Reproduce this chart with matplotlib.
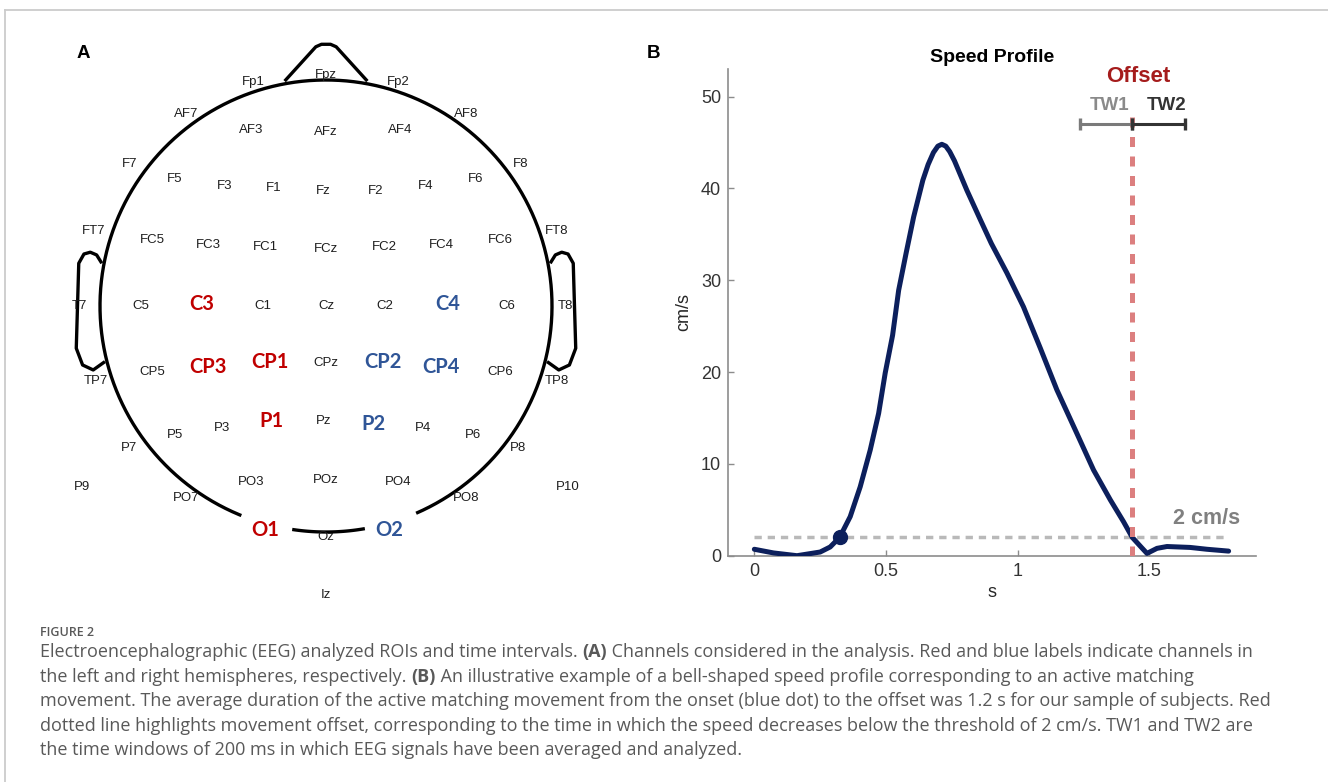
import numpy as np
import matplotlib
matplotlib.use("Agg")
import matplotlib.pyplot as plt
from matplotlib.lines import Line2D
from matplotlib.transforms import IdentityTransform

W, H = 1328, 782
plt.rcParams['font.family'] = ['Liberation Sans', 'DejaVu Sans']

# ---- panel A: channel layout (head radius = 1) ----
ch_names = ['Fpz', 'Fp1', 'Fp2', 'AF7', 'AF8', 'AF3', 'AFz', 'AF4',
            'F7', 'F8', 'F5', 'F6', 'F3', 'F4', 'F1', 'F2', 'Fz',
            'FT7', 'FT8', 'FC5', 'FC6', 'FC3', 'FC4', 'FC1', 'FC2', 'FCz',
            'T7', 'C5', 'C3', 'C1', 'Cz', 'C2', 'C4', 'C6', 'T8',
            'TP7', 'TP8', 'CP5', 'CP3', 'CP1', 'CPz', 'CP2', 'CP4', 'CP6',
            'P7', 'P8', 'P5', 'P6', 'P3', 'P4', 'P1', 'Pz', 'P2',
            'P9', 'P10', 'PO7', 'PO8', 'PO3', 'PO4', 'POz',
            'O1', 'O2', 'Oz', 'Iz']
ch_x = [0.00, -0.32, 0.32, -0.62, 0.62, -0.33, 0.00, 0.33,
        -0.87, 0.86, -0.67, 0.66, -0.45, 0.44, -0.23, 0.22, -0.01,
        -1.03, 1.02, -0.77, 0.77, -0.52, 0.51, -0.27, 0.26, 0.00,
        -1.09, -0.82, -0.55, -0.28, 0.00, 0.26, 0.54, 0.80, 1.06,
        -1.02, 1.02, -0.77, -0.52, -0.25, 0.00, 0.25, 0.51, 0.77,
        -0.87, 0.85, -0.67, 0.65, -0.46, 0.43, -0.24, -0.01, 0.21,
        -1.08, 1.07, -0.62, 0.62, -0.33, 0.32, 0.00,
        -0.27, 0.28, 0.00, 0.00]
ch_y = [1.02, 0.99, 0.99, 0.85, 0.85, 0.78, 0.77, 0.78,
        0.63, 0.63, 0.56, 0.56, 0.53, 0.53, 0.52, 0.51, 0.51,
        0.33, 0.33, 0.29, 0.29, 0.27, 0.27, 0.26, 0.26, 0.25,
        0.00, 0.00, 0.01, 0.00, 0.00, 0.00, 0.01, 0.00, 0.00,
        -0.33, -0.33, -0.29, -0.27, -0.25, -0.25, -0.25, -0.27, -0.29,
        -0.63, -0.63, -0.57, -0.57, -0.54, -0.54, -0.51, -0.51, -0.52,
        -0.80, -0.80, -0.85, -0.85, -0.78, -0.78, -0.77,
        -0.99, -0.99, -1.02, -1.28]
roi_left = ['C3', 'CP3', 'CP1', 'P1', 'O1']
roi_right = ['C4', 'CP2', 'CP4', 'P2', 'O2']

# ---- panel B: speed profile ----
t_s = [0.0, 0.073, 0.162, 0.250, 0.288, 0.324, 0.364, 0.402, 0.440, 0.472,
       0.497, 0.525, 0.548, 0.576, 0.605, 0.640, 0.660, 0.680, 0.697, 0.712,
       0.727, 0.742, 0.760, 0.807, 0.858, 0.900, 0.959, 1.022, 1.086, 1.149,
       1.225, 1.288, 1.352, 1.402, 1.435, 1.470, 1.491, 1.529, 1.567, 1.655,
       1.719, 1.801]
speed = [0.7, 0.3, 0.0, 0.4, 0.95, 2.0, 4.25, 7.5, 11.5, 15.5,
         19.9, 24.0, 28.9, 32.9, 36.9, 40.9, 42.6, 43.9, 44.6, 44.8,
         44.6, 44.0, 43.0, 39.8, 36.6, 34.0, 30.8, 27.1, 22.6, 18.05,
         13.3, 9.34, 6.07, 3.7, 2.0, 0.9, 0.25, 0.8, 1.0, 0.9,
         0.7, 0.5]
onset = (0.324, 2.0)
offset_t = 1.435
threshold = 2.0
tw1 = [1.235, 1.435]
tw2 = [1.435, 1.635]

caption_head = 'FIGURE 2'
caption_lines = [
    [('Electroencephalographic (EEG) analyzed ROIs and time intervals. ', 'normal'), ('(A)', 'bold'),
     (' Channels considered in the analysis. Red and blue labels indicate channels in', 'normal')],
    [('the left and right hemispheres, respectively. ', 'normal'), ('(B)', 'bold'),
     (' An illustrative example of a bell-shaped speed profile corresponding to an active matching', 'normal')],
    [('movement. The average duration of the active matching movement from the onset (blue dot) to the offset was 1.2 s for our sample of subjects. Red', 'normal')],
    [('dotted line highlights movement offset, corresponding to the time in which the speed decreases below the threshold of 2 cm/s. TW1 and TW2 are', 'normal')],
    [('the time windows of 200 ms in which EEG signals have been averaged and analyzed.', 'normal')],
]


def px_box(x0, y0, x1, y1):
    return [x0 / W, 1 - y1 / H, (x1 - x0) / W, (y1 - y0) / H]


fig = plt.figure(figsize=(W / 100, H / 100), dpi=100)

# light frame
fig.add_artist(Line2D([5 / W, 1], [1 - 10 / H, 1 - 10 / H], transform=fig.transFigure, color='#cccccc', lw=1.3))
fig.add_artist(Line2D([5 / W, 5 / W], [0, 1 - 10 / H], transform=fig.transFigure, color='#cccccc', lw=1.3))

# ---------- A ----------
axa = fig.add_axes(px_box(40, 30, 612, 620))
axa.set_xlim(-286 / 226, 286 / 226)
axa.set_ylim((306 - 620) / 226, (306 - 30) / 226)
axa.axis('off')

head_kw = dict(color='black', lw=2.4, solid_joinstyle='round', solid_capstyle='butt')
th = np.radians(np.linspace(-66.5, 248, 500))
axa.plot(np.cos(th), np.sin(th), **head_kw)
th = np.radians(np.linspace(-98.6, -80.1, 60))
axa.plot(np.cos(th), np.sin(th), **head_kw)
nose_x = [-0.183, -0.045, -0.02, 0.02, 0.045, 0.183]
nose_y = [0.995, 1.147, 1.158, 1.158, 1.147, 0.995]
axa.plot(nose_x, nose_y, **head_kw)
ear_x = np.array([-0.992, -1.015, -1.043, -1.071, -1.094, -1.105, -1.077, -1.030, -0.978])
ear_y = np.array([0.189, 0.226, 0.238, 0.230, 0.189, -0.187, -0.261, -0.283, -0.246])
axa.plot(ear_x, ear_y, **head_kw)
axa.plot(-ear_x, ear_y, **head_kw)

for name, x, y in zip(ch_names, ch_x, ch_y):
    if name in roi_left or name in roi_right:
        col = '#c00000' if name in roi_left else '#2f5597'
        axa.text(x, y, name, ha='center', va='center', fontsize=14.5, fontweight='bold',
                 color=col, family=['Lato', 'DejaVu Sans'])
    else:
        axa.text(x, y, name, ha='center', va='center', fontsize=9.5, color='#1e1e1e')

fig.text(83 / W, 1 - 53 / H, 'A', ha='center', va='center', fontsize=13.5, fontweight='bold')
fig.text(653 / W, 1 - 53 / H, 'B', ha='center', va='center', fontsize=13.5, fontweight='bold')

# ---------- B ----------
navy = '#0c1f5c'
axb = fig.add_axes(px_box(728, 69, 1256, 555.7))
axb.set_xlim(-0.1, 1.905)
axb.set_ylim(0, 53)
axb.plot([t_s[0], t_s[-1]], [threshold, threshold], color='#b9b9b9', lw=2.5,
         dashes=(2.1, 1.7), zorder=2)
axb.plot(t_s, speed, color=navy, lw=3.6, solid_joinstyle='round', solid_capstyle='round', zorder=4)
axb.plot([onset[0]], [onset[1]], 'o', ms=10, color=navy, zorder=5)
axb.plot([offset_t, offset_t], [0, 48], color='#dc7f7f', lw=3.6, dashes=(2.0, 1.9), zorder=6)
axb.plot(tw1, [47, 47], color='#7a7a7a', lw=2.2, marker='|', ms=9, mew=2.4, zorder=6, clip_on=False)
axb.plot(tw2, [47, 47], color='#333333', lw=2.2, marker='|', ms=9, mew=2.4, zorder=7, clip_on=False)

axb.text(1.459, 52.2, 'Offset', ha='center', va='center', fontsize=16, fontweight='bold',
         color='#a51c1c', clip_on=False)
axb.text(1.350, 49.0, 'TW1', ha='center', va='center', fontsize=13.5, fontweight='bold', color='#8a8a8a')
axb.text(1.564, 49.0, 'TW2', ha='center', va='center', fontsize=13.5, fontweight='bold', color='#333333')
axb.text(1.716, 4.0, '2 cm/s', ha='center', va='center', fontsize=15.5, fontweight='bold', color='#808080')

axb.text(0.5, 1 + (69 - 57.3) / 486.7, 'Speed Profile', transform=axb.transAxes, ha='center',
         va='center', fontsize=14, fontweight='bold')
axb.text(-0.083, 0.5, 'cm/s', transform=axb.transAxes, rotation=90, ha='center', va='center',
         fontsize=13, color='#262626')
axb.text(0.5, -0.0766, 's', transform=axb.transAxes, ha='center', va='center', fontsize=13,
         color='#262626')

axb.set_xticks([0, 0.5, 1, 1.5])
axb.set_xticklabels(['0', '0.5', '1', '1.5'])
axb.set_yticks([0, 10, 20, 30, 40, 50])
axb.tick_params(direction='in', length=4, width=1, color='#8c8c8c', labelsize=13,
                labelcolor='#333333', pad=5)
for side in ['top', 'right']:
    axb.spines[side].set_visible(False)
for side in ['left', 'bottom']:
    axb.spines[side].set_color('#8c8c8c')
    axb.spines[side].set_linewidth(1.2)

# ---------- caption ----------
renderer = fig.canvas.get_renderer()
cap_font = ['Open Sans', 'DejaVu Sans']
fig.text(40, H - 632, caption_head, transform=IdentityTransform(), fontsize=9, color='#595959',
         family=cap_font, va='center', ha='left', fontweight='semibold')
for i, runs in enumerate(caption_lines):
    y = H - (652 + 24.6 * i)
    x = 40
    for s, w in runs:
        t = fig.text(x, y, s, transform=IdentityTransform(), fontsize=13, fontweight=w,
                     color='#595959', family=cap_font, va='center', ha='left')
        x += t.get_window_extent(renderer).width

fig.savefig('out.png', dpi=100)
